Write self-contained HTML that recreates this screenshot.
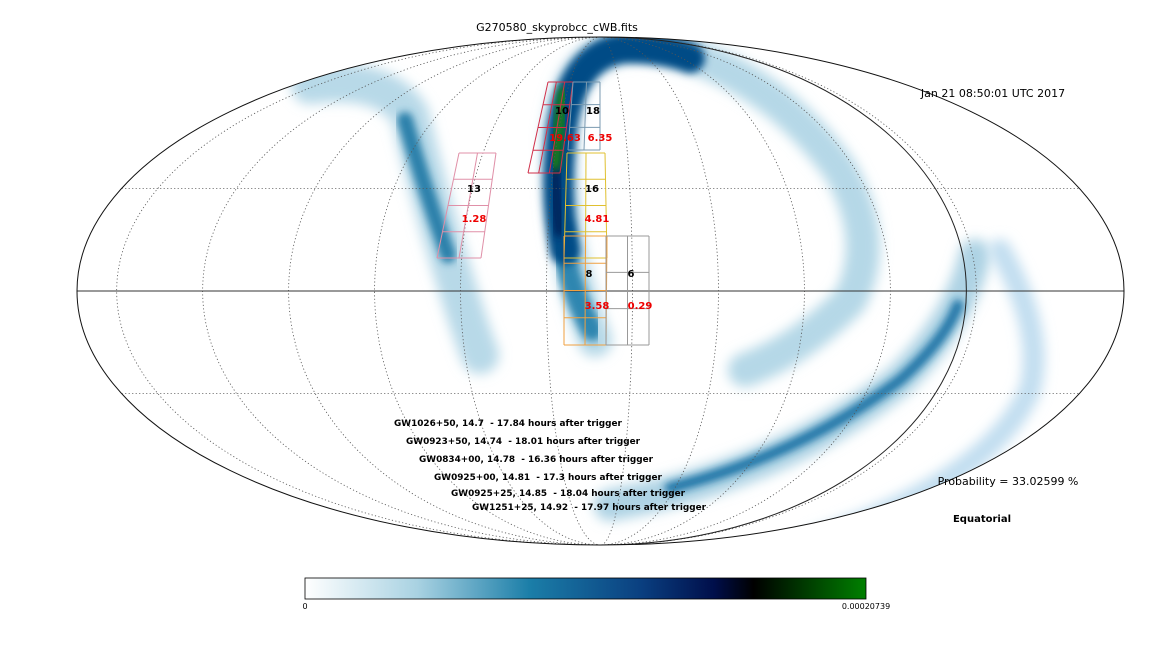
<!DOCTYPE html>
<html><head><meta charset="utf-8"><style>
html,body{margin:0;padding:0;background:#fff;}
svg{display:block;font-family:"DejaVu Sans","Liberation Sans",sans-serif;}
</style></head><body>
<svg id="c" width="1169" height="670" viewBox="0 0 1169 670">
<defs>
<clipPath id="ell"><ellipse cx="600.5" cy="291" rx="523.5" ry="254"/></clipPath>
<filter id="b1" x="-20%" y="-20%" width="140%" height="140%"><feGaussianBlur stdDeviation="6"/></filter>
<filter id="b2" x="-20%" y="-20%" width="140%" height="140%"><feGaussianBlur stdDeviation="4"/></filter>
<linearGradient id="cb" x1="0" x2="1" y1="0" y2="0">
<stop offset="0" stop-color="#ffffff"/><stop offset="0.2" stop-color="#a9d2e2"/>
<stop offset="0.4" stop-color="#1b7ea8"/><stop offset="0.6" stop-color="#0a3f80"/>
<stop offset="0.73" stop-color="#000e4a"/><stop offset="0.8" stop-color="#000"/>
<stop offset="1" stop-color="#008000"/></linearGradient>
</defs>
<text x="557" y="31" font-size="11" text-anchor="middle">G270580_skyprobcc_cWB.fits</text>
<g clip-path="url(#ell)">
 <g fill="none" stroke-linecap="round">
  <path d="M310,85 Q385,75 410,115 Q430,200 455,280 Q470,330 480,355" stroke="#b8d9e8" stroke-width="38" filter="url(#b1)"/>
  <path d="M405,120 Q425,190 448,255" stroke="#2a80aa" stroke-width="16" filter="url(#b2)"/>
  <path d="M595,340 Q555,240 560,130 Q570,45 640,45 Q760,60 840,170 Q880,240 850,300 Q800,350 745,370" stroke="#b5d8e7" stroke-width="34" filter="url(#b1)"/>
  <path d="M592,330 Q565,280 562,230" stroke="#2f86b0" stroke-width="22" filter="url(#b2)"/>
  <path d="M565,250 Q555,200 560,150 Q565,55 625,48 Q665,48 690,58" stroke="#064b86" stroke-width="30" filter="url(#b2)"/>
  <path d="M560,230 Q552,180 555,140" stroke="#02285e" stroke-width="14" filter="url(#b2)"/>
  <path d="M555,165 L563,92" stroke="#138018" stroke-width="11" filter="url(#b2)"/>
  <path d="M610,505 Q780,475 900,380 Q960,320 975,255" stroke="#aed3e4" stroke-width="32" filter="url(#b1)"/>
  <path d="M670,488 Q800,455 900,380 Q945,340 958,305" stroke="#1a73a6" stroke-width="11" filter="url(#b2)"/>
  <path d="M815,540 Q990,480 1030,390 Q1045,330 1000,250" stroke="#c2def0" stroke-width="22" filter="url(#b1)"/>
 </g>
 <g id="grid" fill="none" stroke="#555" stroke-width="0.8" stroke-dasharray="1.2,2.3"></g>
 <line x1="77" y1="291" x2="1124" y2="291" stroke="#333" stroke-width="1"/>
 <path d="M600.5,37 A366,254 0 0 1 600.5,545" fill="none" stroke="#222" stroke-width="1"/>
</g>
<ellipse cx="600.5" cy="291" rx="523.5" ry="254" fill="none" stroke="#111" stroke-width="1"/>
<g id="tiles" fill="none" stroke-width="1"></g>
<g font-size="10" font-weight="bold" text-anchor="middle">
 <text x="562" y="114">10</text><text x="593" y="114">18</text>
 <text x="565" y="141" fill="#e00">19.63</text><text x="600" y="141" fill="#e00">6.35</text>
 <text x="474" y="192">13</text><text x="474" y="222" fill="#e00">1.28</text>
 <text x="592" y="192">16</text><text x="597" y="222" fill="#e00">4.81</text>
 <text x="589" y="277">8</text><text x="631" y="277">6</text>
 <text x="597" y="309" fill="#e00">3.58</text><text x="640" y="309" fill="#e00">0.29</text>
</g>
<text x="993" y="97" font-size="11" text-anchor="middle">Jan 21 08:50:01 UTC 2017</text>
<g font-size="8.9" font-weight="bold">
 <text x="394" y="426">GW1026+50, 14.7 &#160;- 17.84 hours after trigger</text>
 <text x="406" y="444">GW0923+50, 14.74 &#160;- 18.01 hours after trigger</text>
 <text x="419" y="462">GW0834+00, 14.78 &#160;- 16.36 hours after trigger</text>
 <text x="434" y="480">GW0925+00, 14.81 &#160;- 17.3 hours after trigger</text>
 <text x="451" y="496">GW0925+25, 14.85 &#160;- 18.04 hours after trigger</text>
 <text x="472" y="510">GW1251+25, 14.92 &#160;- 17.97 hours after trigger</text>
</g>
<text x="1008" y="485" font-size="11" text-anchor="middle">Probability = 33.02599 %</text>
<text x="982" y="522" font-size="10" font-weight="bold" text-anchor="middle">Equatorial</text>
<rect x="305" y="578" width="561" height="21" fill="url(#cb)" stroke="#000" stroke-width="0.8"/>
<text x="305" y="609" font-size="8" text-anchor="middle">0</text>
<text x="866" y="609" font-size="8" text-anchor="middle">0.00020739</text>
<script>
const ns='http://www.w3.org/2000/svg';
const cx=600.5,cy=291,rx=523.5,ry=254;
const meridianOffsets=[-5,-4,-3,-2,-1,0,1,2,3,4,5];
const parallelLats=[-30,30];
const g=document.getElementById('grid');
meridianOffsets.forEach(k=>{
 const x=-54+k*86;
 const p=document.createElementNS(ns,'path');
 const a=Math.abs(x), sw=x>=0?1:0;
 p.setAttribute('d',`M${cx},${cy-ry} A${a},${ry} 0 0 ${sw} ${cx},${cy+ry}`);
 
 
 g.appendChild(p);
});
parallelLats.forEach(lat=>{
 const phi=lat*Math.PI/180;let t=phi;
 for(let i=0;i<30;i++){t=t-(2*t+Math.sin(2*t)-Math.PI*Math.sin(phi))/(2+2*Math.cos(2*t));}
 const y=cy-ry*Math.sin(t),hw=rx*Math.cos(t);
 const l=document.createElementNS(ns,'line');
 l.setAttribute('x1',cx-hw);l.setAttribute('x2',cx+hw);l.setAttribute('y1',y);l.setAttribute('y2',y);
 
 
 g.appendChild(l);
});
const tileNames=['tile-10','tile-18','tile-16','tile-8','tile-6','tile-13'];
const tileCorners=[[[548,82],[573,82],[528,173],[560,173]],[[573,82],[600,82],[568,150],[600,150]],[[567,153],[605,153],[564,258],[607,258]],[[564,236],[607,236],[564,345],[606,345]],[[606,236],[649,236],[606,345],[649,345]],[[459,153],[496,153],[437,258],[481,258]]];
const tileCols=['#d0304a','#7a9ab0','#e0c030','#f0a040','#999','#e090a8'];
const tileGrid=[[3,4],[2,3],[2,4],[2,4],[2,3],[2,4]];
const T=document.getElementById('tiles');
const L=(a,b,t)=>[a[0]+(b[0]-a[0])*t,a[1]+(b[1]-a[1])*t];
tileCorners.forEach((c,i)=>{
 const [nx,ny]=tileGrid[i];const grp=document.createElementNS(ns,'g');
 grp.setAttribute('stroke',tileCols[i]);
 
 
 const seg=(p,q)=>{const l=document.createElementNS(ns,'line');l.setAttribute('x1',p[0]);l.setAttribute('y1',p[1]);l.setAttribute('x2',q[0]);l.setAttribute('y2',q[1]);grp.appendChild(l);};
 for(let j=0;j<=ny;j++){const t=j/ny;seg(L(c[0],c[2],t),L(c[1],c[3],t));}
 for(let j=0;j<=nx;j++){const t=j/nx;seg(L(c[0],c[1],t),L(c[2],c[3],t));}
 T.appendChild(grp);
});
</script>
</svg>
</body></html>
